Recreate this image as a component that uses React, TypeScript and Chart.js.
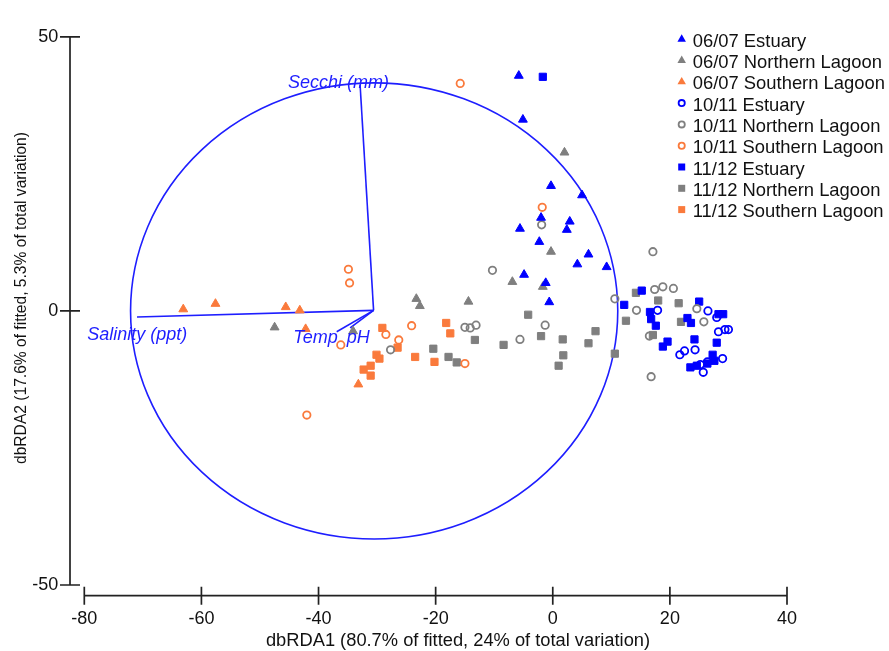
import React, { useEffect, useRef } from 'react';
import { Chart, registerables } from 'chart.js';

Chart.register(...registerables);

const FONT = '"Liberation Sans", Arial, Helvetica, sans-serif';
const TEXT_COLOR = '#111111';
const BLUE = '#0000FF';
const GREY = '#7F7F7F';
const ORANGE = '#FA7A3C';
const VECTOR_BLUE = '#1E1EFF';

const X_TICKS = [-80, -60, -40, -20, 0, 20, 40];
const Y_TICKS = [-50, 0, 50];
const X_TITLE = 'dbRDA1 (80.7% of fitted, 24% of total variation)';
const Y_TITLE = 'dbRDA2 (17.6% of fitted, 5.3% of total variation)';

// ---- series (dbRDA1, dbRDA2) ----
const estuary0607 = [
  [-5.8, 42.9], [-5.1, 34.9], [-0.3, 22.8], [5.0, 21.1], [-2.0, 17.0], [2.9, 16.3],
  [-5.6, 15.0], [2.4, 14.8], [-2.3, 12.6], [6.1, 10.3], [4.2, 8.5], [9.2, 8.0],
  [-4.9, 6.6], [-1.2, 5.1], [-0.6, 1.6],
];
const northern0607 = [
  [2.0, 28.9], [-0.3, 10.8], [-6.9, 5.3], [-1.7, 4.4], [-14.4, 1.7], [-23.3, 2.2],
  [-22.7, 0.9], [-34.1, -3.7], [-47.5, -3.0],
];
const southern0607 = [
  [-63.1, 0.3], [-57.6, 1.3], [-45.6, 0.7], [-43.2, 0.1], [-42.2, -3.3], [-33.2, -13.4],
];
const estuary1011 = [
  [17.9, 0.1], [26.5, 0.0], [28.0, -1.2], [28.3, -3.8], [29.4, -3.4], [30.0, -3.4],
  [21.7, -8.0], [22.5, -7.3], [24.3, -7.1], [25.7, -11.2], [26.4, -9.3], [29.0, -8.7],
  [25.2, -9.8],
];
const northern1011 = [
  [-1.9, 15.7], [-10.3, 7.4], [17.1, 10.8], [17.4, 3.9], [18.8, 4.4], [20.6, 4.1],
  [10.6, 2.2], [14.3, 0.1], [24.6, 0.4], [25.8, -2.0], [-1.3, -2.6], [-15.0, -3.0],
  [-14.1, -3.1], [-13.1, -2.6], [-5.6, -5.2], [16.5, -4.6], [16.8, -12.0], [-27.7, -7.1],
];
const southern1011 = [
  [-15.8, 41.5], [-1.8, 18.9], [-34.9, 7.6], [-34.7, 5.1], [-24.1, -2.7], [-28.5, -4.3],
  [-26.3, -5.3], [-36.2, -6.2], [-15.0, -9.6], [-42.0, -19.0],
];
const estuary1112 = [
  [-1.7, 42.7], [15.2, 3.7], [12.2, 1.1], [16.6, -0.2], [16.8, -1.5], [17.6, -2.7],
  [25.0, 1.7], [23.0, -1.3], [23.6, -2.2], [28.3, -0.6], [29.1, -0.6], [24.2, -5.2],
  [28.0, -5.8], [18.8, -6.5], [19.6, -5.6], [23.5, -10.3], [24.6, -10.0], [27.3, -8.0],
  [27.6, -9.1], [26.4, -9.6],
];
const northern1112 = [
  [-4.2, -0.7], [-13.3, -5.3], [-8.4, -6.2], [-2.0, -4.6], [1.7, -5.2], [7.3, -3.7],
  [6.1, -5.9], [1.8, -8.1], [1.0, -10.0], [10.6, -7.8], [12.5, -1.8], [17.1, -4.4],
  [21.9, -2.0], [14.2, 3.3], [18.0, 1.9], [21.5, 1.4], [-20.4, -6.9], [-17.8, -8.4],
  [-16.4, -9.4],
];
const southern1112 = [
  [-29.1, -3.1], [-30.1, -8.0], [-29.6, -8.7], [-32.3, -10.7], [-31.1, -10.0], [-31.1, -11.8],
  [-26.5, -6.7], [-23.5, -8.4], [-20.2, -9.3], [-18.2, -2.2], [-17.5, -4.1],
];

const SERIES_LABELS = [
  '06/07 Estuary', '06/07 Northern Lagoon', '06/07 Southern Lagoon',
  '10/11 Estuary', '10/11 Northern Lagoon', '10/11 Southern Lagoon',
  '11/12 Estuary', '11/12 Northern Lagoon', '11/12 Southern Lagoon',
];
const SERIES_DATA = [
  estuary0607, northern0607, southern0607,
  estuary1011, northern1011, southern1011,
  estuary1112, northern1112, southern1112,
];
const SERIES_COLORS = [BLUE, GREY, ORANGE, BLUE, GREY, ORANGE, BLUE, GREY, ORANGE];
const SERIES_SHAPES = ['triangle', 'triangle', 'triangle', 'circle', 'circle', 'circle', 'rect', 'rect', 'rect'];

// ---- biplot vectors ----
const VECTOR_ORIGIN = [-30.6, 0.1];
const VECTOR_NAMES = ['Secchi (mm)', 'Salinity (ppt)', 'Temp', 'pH'];
const VECTOR_ENDS = [[-32.9, 41.2], [-71.0, -1.1], [-36.9, -3.8], [-34.6, -3.1]];
const VECTOR_LABEL_AT = [[-45.2, 40.7], [-79.5, -5.3], [-44.3, -5.9], [-35.2, -5.9]];
const CIRCLE_CENTER = [-30.5, 0];
const CIRCLE_RADIUS = 41.6;

function drawLegendMarker(ctx: CanvasRenderingContext2D, shape: string, color: string, cx: number, cy: number) {
  ctx.save();
  ctx.fillStyle = color;
  ctx.strokeStyle = color;
  ctx.beginPath();
  if (shape === 'triangle') {
    const r = 4.9;
    ctx.moveTo(cx, cy - r);
    ctx.lineTo(cx + r * 0.866, cy + r / 2);
    ctx.lineTo(cx - r * 0.866, cy + r / 2);
    ctx.closePath();
    ctx.fill();
  } else if (shape === 'circle') {
    ctx.lineWidth = 1.8;
    ctx.arc(cx, cy, 3.1, 0, Math.PI * 2);
    ctx.stroke();
  } else {
    ctx.rect(cx - 3.5, cy - 3.5, 7, 7);
    ctx.fill();
  }
  ctx.restore();
}

const decorPlugin = {
  id: 'decor',
  beforeDatasetsDraw(chart: any) {
    const { ctx, scales } = chart;
    const xs = scales.x;
    const ys = scales.y;
    const cx = xs.getPixelForValue(CIRCLE_CENTER[0]);
    const cy = ys.getPixelForValue(CIRCLE_CENTER[1]);
    const rx = Math.abs(xs.getPixelForValue(CIRCLE_CENTER[0] + CIRCLE_RADIUS) - cx);
    const ry = Math.abs(ys.getPixelForValue(CIRCLE_CENTER[1] + CIRCLE_RADIUS) - cy);
    ctx.save();
    ctx.strokeStyle = VECTOR_BLUE;
    ctx.lineWidth = 1.6;
    ctx.beginPath();
    ctx.ellipse(cx, cy, rx, ry, 0, 0, Math.PI * 2);
    ctx.stroke();
    ctx.restore();
  },
  afterDatasetsDraw(chart: any) {
    const { ctx, scales } = chart;
    const xs = scales.x;
    const ys = scales.y;
    ctx.save();
    ctx.fillStyle = VECTOR_BLUE;
    ctx.font = `italic 18px ${FONT}`;
    ctx.textAlign = 'left';
    ctx.textBaseline = 'alphabetic';
    VECTOR_NAMES.forEach((name, i) => {
      ctx.fillText(name, xs.getPixelForValue(VECTOR_LABEL_AT[i][0]), ys.getPixelForValue(VECTOR_LABEL_AT[i][1]));
    });
    ctx.restore();
  },
  afterDraw(chart: any) {
    const { ctx, scales, chartArea } = chart;
    const xs = scales.x;
    const ys = scales.y;
    ctx.save();
    // offset axes
    const yAxisX = chartArea.left - 14.3;
    const xAxisY = chartArea.bottom + 10.7;
    ctx.strokeStyle = '#222222';
    ctx.lineWidth = 1.7;
    ctx.beginPath();
    ctx.moveTo(yAxisX, ys.getPixelForValue(Y_TICKS[Y_TICKS.length - 1]));
    ctx.lineTo(yAxisX, ys.getPixelForValue(Y_TICKS[0]));
    Y_TICKS.forEach((v) => {
      const p = ys.getPixelForValue(v);
      ctx.moveTo(yAxisX - 10, p);
      ctx.lineTo(yAxisX + 10, p);
    });
    ctx.moveTo(xs.getPixelForValue(X_TICKS[0]), xAxisY);
    ctx.lineTo(xs.getPixelForValue(X_TICKS[X_TICKS.length - 1]), xAxisY);
    X_TICKS.forEach((v) => {
      const p = xs.getPixelForValue(v);
      ctx.moveTo(p, xAxisY - 9);
      ctx.lineTo(p, xAxisY + 9);
    });
    ctx.stroke();

    // axis titles
    ctx.fillStyle = TEXT_COLOR;
    ctx.font = `18.3px ${FONT}`;
    ctx.textAlign = 'center';
    ctx.textBaseline = 'alphabetic';
    ctx.fillText(X_TITLE, 458, 646);

    ctx.save();
    ctx.translate(26, 298);
    ctx.rotate(-Math.PI / 2);
    ctx.font = `15.6px ${FONT}`;
    ctx.textAlign = 'center';
    ctx.textBaseline = 'alphabetic';
    ctx.fillText(Y_TITLE, 0, 0);
    ctx.restore();

    // legend
    const lx = 681.7;
    const tx = 692.7;
    const baseline0 = 46.7;
    const step = 21.3;
    ctx.font = `18.4px ${FONT}`;
    ctx.textAlign = 'left';
    SERIES_LABELS.forEach((label, i) => {
      const by = baseline0 + i * step;
      drawLegendMarker(ctx, SERIES_SHAPES[i], SERIES_COLORS[i], lx, by - 7.5);
      ctx.fillStyle = TEXT_COLOR;
      ctx.fillText(label, tx, by);
    });
    ctx.restore();
  },
};

export default function App() {
  const canvasRef = useRef<HTMLCanvasElement | null>(null);

  useEffect(() => {
    if (!canvasRef.current) return;
    const pointSets = SERIES_DATA.map((arr, i) => {
      const shape = SERIES_SHAPES[i];
      const color = SERIES_COLORS[i];
      const open = shape === 'circle';
      return {
        label: SERIES_LABELS[i],
        data: arr.map(([x, y]) => ({ x, y })),
        pointStyle: shape,
        pointRadius: shape === 'circle' ? 3.7 : 5.1,
        pointBorderWidth: shape === 'circle' ? 1.8 : 1,
        pointBorderColor: color,
        pointBackgroundColor: open ? 'rgba(0,0,0,0)' : color,
        showLine: false,
        order: 1,
      };
    });
    const vectorSets = VECTOR_ENDS.map((end, i) => ({
      label: VECTOR_NAMES[i],
      data: [
        { x: VECTOR_ORIGIN[0], y: VECTOR_ORIGIN[1] },
        { x: end[0], y: end[1] },
      ],
      showLine: true,
      borderColor: VECTOR_BLUE,
      borderWidth: 1.6,
      pointRadius: 0,
      fill: false,
      order: 10,
    }));

    const chart = new Chart(canvasRef.current, {
      type: 'scatter',
      data: { datasets: [...vectorSets, ...pointSets] as any },
      options: {
        animation: false,
        responsive: true,
        maintainAspectRatio: false,
        layout: { padding: { top: 18, right: 102, left: 0, bottom: 0 } },
        plugins: {
          legend: { display: false },
          tooltip: { enabled: false },
        },
        scales: {
          x: {
            type: 'linear',
            position: 'bottom',
            min: X_TICKS[0],
            max: X_TICKS[X_TICKS.length - 1],
            afterBuildTicks: (s: any) => {
              s.ticks = X_TICKS.map((v) => ({ value: v }));
            },
            afterFit: (s: any) => {
              s.height = 66;
            },
            grid: { display: false, drawTicks: false },
            border: { display: false },
            ticks: {
              padding: 23,
              color: TEXT_COLOR,
              font: { family: FONT, size: 18 },
              maxRotation: 0,
              autoSkip: false,
            },
            title: { display: false },
          },
          y: {
            type: 'linear',
            position: 'left',
            min: Y_TICKS[0],
            max: Y_TICKS[Y_TICKS.length - 1],
            afterBuildTicks: (s: any) => {
              s.ticks = Y_TICKS.map((v) => ({ value: v }));
            },
            afterFit: (s: any) => {
              s.width = 84.3;
            },
            grid: { display: false, drawTicks: false },
            border: { display: false },
            ticks: {
              padding: 26,
              color: TEXT_COLOR,
              font: { family: FONT, size: 18 },
              autoSkip: false,
            },
            title: { display: false },
          },
        },
      } as any,
      plugins: [decorPlugin],
    });
    return () => chart.destroy();
  }, []);

  return (
    <div style={{ position: 'fixed', left: 0, top: 0, width: 889, height: 651, background: '#fff' }}>
      <canvas ref={canvasRef} />
    </div>
  );
}
